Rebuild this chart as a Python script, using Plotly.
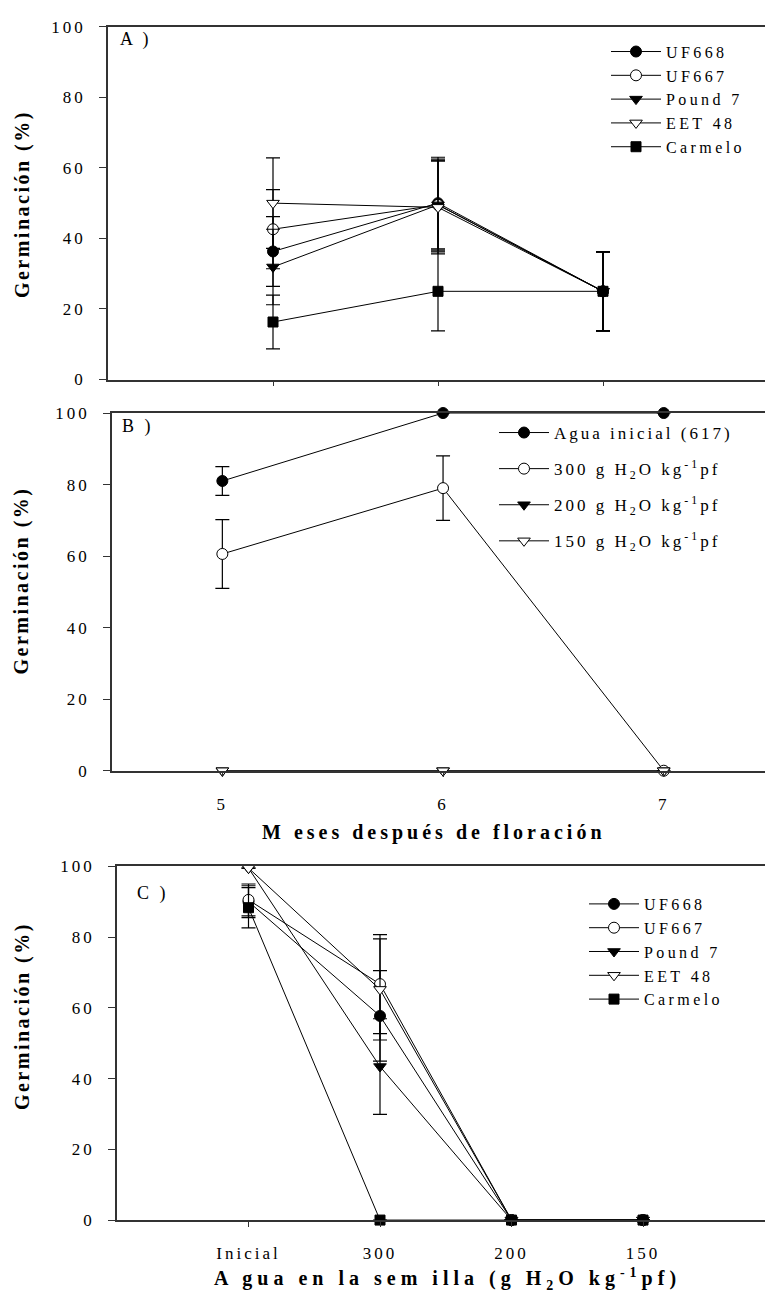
import plotly.graph_objects as go

W, H = 765, 1302
FONT = "'Liberation Serif', 'Times New Roman', serif"
AX = "#333333"

# ---------------- data ----------------
# Panel A: germination vs months after flowering, by clone
A_months = [5, 6, 7]
A_names = ["UF668", "UF667", "Pound 7", "EET 48", "Carmelo"]
A_uf668 = [36.3, 50.0, 25.0]
A_uf668_err = [9.9, 13.0, 11.2]
A_uf667 = [42.6, 49.5, 25.0]
A_uf667_err = [11.2, 13.0, 11.2]
A_pound7 = [31.9, 49.5, 25.0]
A_pound7_err = [10.7, 12.5, 11.2]
A_eet48 = [50.0, 48.8, 25.0]
A_eet48_err = [12.8, 13.2, 11.2]
A_carmelo = [16.3, 25.0, 25.0]
A_carmelo_err = [7.6, 11.2, 11.2]

# Panel B: germination vs months, by seed water content
B_months = [5, 6, 7]
B_agua = [81.0, 100.0, 100.0]
B_agua_err = [4.0, 0.0, 0.0]
B_300 = [60.6, 79.0, 0.0]
B_300_err = [9.6, 9.0, 0.0]
B_200 = [0.0, 0.0, 0.0]
B_150 = [0.0, 0.0, 0.0]

# Panel C: germination vs seed water content, by clone
C_levels = ["Inicial", "300", "200", "150"]
C_pos = [1, 2, 3, 4]
C_uf668 = [90.0, 57.7, 0.0, 0.0]
C_uf668_err = [4.5, 12.8, 0.0, 0.0]
C_uf667 = [90.5, 66.7, 0.0, 0.0]
C_uf667_err = [4.5, 14.0, 0.0, 0.0]
C_pound7 = [99.5, 43.4, 0.0, 0.0]
C_pound7_err = [0.0, 13.5, 0.0, 0.0]
C_eet48 = [99.5, 65.2, 0.0, 0.0]
C_eet48_err = [0.0, 14.3, 0.0, 0.0]
C_carmelo = [88.3, 0.0, 0.0, 0.0]
C_carmelo_err = [5.7, 0.0, 0.0, 0.0]

Y_TICKS = [0, 20, 40, 60, 80, 100]


def ls(t, px=3):
    return f'<span style="letter-spacing:{px}px">{t}</span>'


def water_label(v):
    return (ls(f"{v} g H") + "<sub>" + ls("2") + "</sub>" + ls("O kg")
            + "<sup>" + ls("-1") + "</sup>" + ls("pf"))


STY = {
    "UF668": ("circle", "black"),
    "UF667": ("circle", "white"),
    "Pound 7": ("triangle-down", "black"),
    "EET 48": ("triangle-down", "white"),
    "Carmelo": ("square", "black"),
}

fig = go.Figure()


def add(x, y, err, sym, fill, name, xa, ya, leg, grp):
    size = 11 if sym != "square" else 10
    kw = {}
    if err is not None:
        kw["error_y"] = dict(type="data", array=err, visible=True,
                             color="black", thickness=1.2, width=7)
    fig.add_trace(go.Scatter(
        x=x, y=y, mode="lines+markers", name=name,
        line=dict(color="black", width=1),
        marker=dict(symbol=sym, size=size, color=fill,
                    line=dict(color="black", width=1)),
        xaxis=xa, yaxis=ya, legend=leg, legendgroup=grp,
        cliponaxis=False, **kw))


# Panel A
A_vals = [A_uf668, A_uf667, A_pound7, A_eet48, A_carmelo]
A_errs = [A_uf668_err, A_uf667_err, A_pound7_err, A_eet48_err, A_carmelo_err]
for i, (n, v, e) in enumerate(zip(A_names, A_vals, A_errs)):
    s, f = STY[n]
    add(A_months, v, e, s, f, ls(n, 3.4), "x", "y", "legend", f"a{i}")

# Panel B
add(B_months, B_agua, B_agua_err, "circle", "black", ls("Agua inicial (617)"), "x2", "y2", "legend2", "b0")
add(B_months, B_300, B_300_err, "circle", "white", water_label(300), "x2", "y2", "legend2", "b1")
add(B_months, B_200, None, "triangle-down", "black", water_label(200), "x2", "y2", "legend2", "b2")
add(B_months, B_150, None, "triangle-down", "white", water_label(150), "x2", "y2", "legend2", "b3")

# Panel C
C_vals = [C_uf668, C_uf667, C_pound7, C_eet48, C_carmelo]
C_errs = [C_uf668_err, C_uf667_err, C_pound7_err, C_eet48_err, C_carmelo_err]
for i, (n, v, e) in enumerate(zip(A_names, C_vals, C_errs)):
    s, f = STY[n]
    add(C_pos, v, e, s, f, ls(n, 3.4), "x3", "y3", "legend3", f"c{i}")


def ydom(top, bottom):
    return [1 - bottom / H, 1 - top / H]


def xaxis(left, rng, tickvals, ticktext, show_labels):
    return dict(domain=[left / W, 1], range=rng, showline=True, linecolor=AX,
                linewidth=1.5, mirror=True, ticks="outside", ticklen=5,
                tickwidth=1, tickcolor=AX, showgrid=False, zeroline=False,
                tickvals=tickvals, ticktext=ticktext, showticklabels=show_labels,
                tickfont=dict(family=FONT, size=17, color="black"),
                ticklabelstandoff=12)


def yaxis(top, bottom, anchor):
    return dict(domain=ydom(top, bottom), range=[0, 100], showline=True,
                linecolor=AX, linewidth=1.5, ticks="outside", ticklen=7,
                tickwidth=1, tickcolor=AX, showgrid=False, zeroline=False,
                tickvals=Y_TICKS, ticktext=[ls(str(v)) for v in Y_TICKS],
                tickfont=dict(family=FONT, size=17, color="black"),
                ticklabelstandoff=10, anchor=anchor)


A_rng = [4, 4 + (W - 108) / 165.0]
B_rng = [4.5, 4.5 + (W - 112) / 220.7]
C_rng = [0, (W - 117) / 131.5]

LEG = dict(xanchor="left", yanchor="top", bgcolor="rgba(0,0,0,0)",
           font=dict(family=FONT, size=17, color="black"), itemwidth=50)
LEG16 = dict(LEG, font=dict(family=FONT, size=16, color="black"))

layout = dict(
    width=W, height=H, margin=dict(l=0, r=0, t=0, b=0),
    paper_bgcolor="white", plot_bgcolor="white",
    font=dict(family=FONT, color="black"),
    xaxis=dict(xaxis(108, A_rng, A_months, [str(v) for v in A_months], False), anchor="y"),
    yaxis=yaxis(18, 376, "x"),
    xaxis2=dict(xaxis(112, B_rng, B_months, [ls(str(v)) for v in B_months], True), anchor="y2"),
    yaxis2=yaxis(410, 773, "x2"),
    xaxis3=dict(xaxis(117, C_rng, C_pos, [ls(v) for v in C_levels], True), anchor="y3"),
    yaxis3=yaxis(870, 1229, "x3"),
    legend=dict(LEG16, x=606 / W, y=1 - 26 / H, tracegroupgap=0),
    legend2=dict(LEG, x=494 / W, y=1 - 412 / H, tracegroupgap=11),
    legend3=dict(LEG16, x=584 / W, y=1 - 891 / H, tracegroupgap=0),
    showlegend=True,
)
fig.update_layout(**layout)

ann = []


def text(x, y, t, size=18, angle=0, xanchor="left", bold=False):
    if bold:
        t = "<b>" + t + "</b>"
    ann.append(dict(x=x / W, y=1 - y / H, xref="paper", yref="paper", text=t,
                    showarrow=False, xanchor=xanchor, yanchor="middle",
                    textangle=angle, font=dict(family=FONT, size=size, color="black")))


text(118, 31, ls("A )"))
text(120, 424, ls("B )"))
text(135, 898, ls("C )"))
for cy in [198, 580, 1022]:
    text(22, cy, ls("Germinación (%)", 2.5), size=20, angle=-90, xanchor="center", bold=True)
text(260, 836, ls("M eses después de floración", 4), size=20, bold=True)
text(212, 1289, ls("A gua en la sem illa (g H", 5) + "<sub>" + ls("2", 5) + "</sub>"
     + ls("O kg", 5) + "<sup>" + ls("-1", 5) + "</sup>" + ls("pf)", 5), size=20, bold=True)
fig.update_layout(annotations=ann)

fig.write_html("out.html", config={"displayModeBar": False},
               post_script="document.body.style.margin='0';")
